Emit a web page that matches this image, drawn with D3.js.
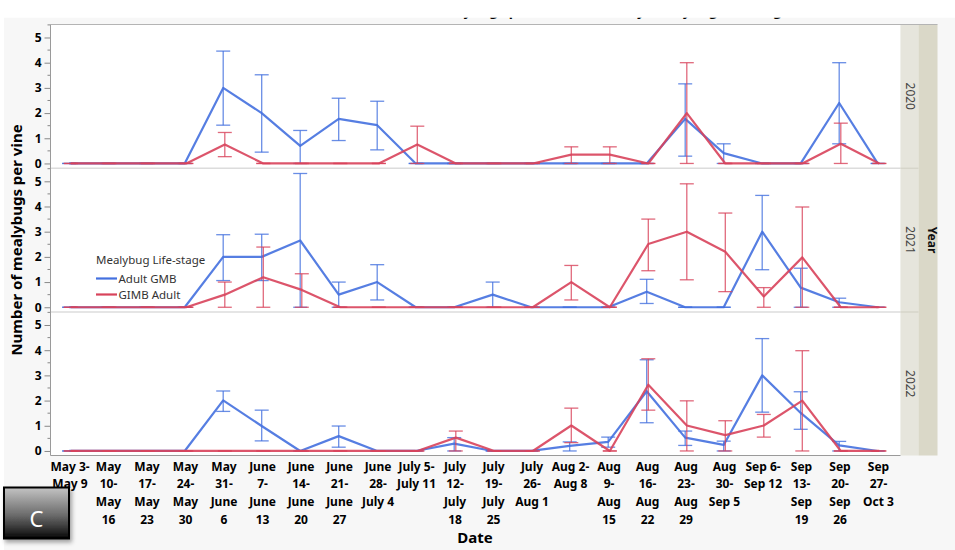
<!DOCTYPE html>
<html>
<head>
<meta charset="utf-8">
<script src="https://cdn.jsdelivr.net/npm/d3@7"></script>
<style>
  html, body { margin: 0; padding: 0; background: #ffffff; }
  svg { display: block; }
</style>
</head>
<body>
<svg id="chart" width="955" height="550"></svg>
<script>
// ---------------- DATA ----------------
const categories = [
  "May 3-May 9", "May 10-May 16", "May 17-May 23", "May 24-May 30", "May 31-June 6",
  "June 7-June 13", "June 14-June 20", "June 21-June 27", "June 28-July 4", "July 5-July 11",
  "July 12-July 18", "July 19-July 25", "July 26-Aug 1", "Aug 2-Aug 8", "Aug 9-Aug 15",
  "Aug 16-Aug 22", "Aug 23-Aug 29", "Aug 30-Sep 5", "Sep 6-Sep 12", "Sep 13-Sep 19",
  "Sep 20-Sep 26", "Sep 27-Oct 3"
];
const tickLabels = [
  ["May 3-", "May 9"], ["May", "10-", "May", "16"], ["May", "17-", "May", "23"], ["May", "24-", "May", "30"],
  ["May", "31-", "June", "6"], ["June", "7-", "June", "13"], ["June", "14-", "June", "20"], ["June", "21-", "June", "27"],
  ["June", "28-", "July 4"], ["July 5-", "July 11"], ["July", "12-", "July", "18"], ["July", "19-", "July", "25"],
  ["July", "26-", "Aug 1"], ["Aug 2-", "Aug 8"], ["Aug", "9-", "Aug", "15"], ["Aug", "16-", "Aug", "22"],
  ["Aug", "23-", "Aug", "29"], ["Aug", "30-", "Sep 5"], ["Sep 6-", "Sep 12"], ["Sep", "13-", "Sep", "19"],
  ["Sep", "20-", "Sep", "26"], ["Sep", "27-", "Oct 3"]
];
const years = ["2020", "2021", "2022"];
const seriesNames = ["Adult GMB", "GIMB Adult"];
const yTicks = [0, 1, 2, 3, 4, 5];

// 2020
const adultGMB2020    = [0,0,0,0,3.0,2.0,0.7,1.77,1.52,0,0,0,0,0,0,0,1.77,0.41,0,0,2.4,0];
const adultGMB2020Lo  = [0,0,0,0,1.52,0.45,0,0.91,0.54,0,0,0,0,0,0,0,0.29,0,0,0,0.78,0];
const adultGMB2020Hi  = [0,0,0,0,4.46,3.52,1.31,2.59,2.47,0,0,0,0,0,0,0,3.16,0.78,0,0,4.0,0];
const gimbAdult2020   = [0,0,0,0,0.75,0,0,0,0,0.75,0,0,0,0.35,0.35,0,2.0,0,0,0,0.78,0];
const gimbAdult2020Lo = [0,0,0,0,0.27,0,0,0,0,0,0,0,0,0,0,0,0,0,0,0,0,0];
const gimbAdult2020Hi = [0,0,0,0,1.23,0,0,0,0,1.48,0,0,0,0.66,0.66,0,4.0,0,0,0,1.6,0];
// 2021
const adultGMB2021    = [0,0,0,0,2.0,2.0,2.65,0.5,1.0,0,0,0.5,0,0,0,0.62,0,0,3.0,0.78,0.2,0];
const adultGMB2021Lo  = [0,0,0,0,1.06,1.06,0,0,0.29,0,0,0,0,0,0,0.15,0,0,1.49,0,0,0];
const adultGMB2021Hi  = [0,0,0,0,2.88,2.9,5.31,1.0,1.69,0,0,1.0,0,0,0,1.11,0,0,4.44,1.55,0.36,0];
const gimbAdult2021   = [0,0,0,0,0.5,1.19,0.69,0,0,0,0,0,0,1.0,0,2.51,3.0,2.2,0.43,1.98,0,0];
const gimbAdult2021Lo = [0,0,0,0,0,0,0,0,0,0,0,0,0,0.29,0,1.45,1.09,0.62,0,0,0,0];
const gimbAdult2021Hi = [0,0,0,0,1.0,2.39,1.33,0,0,0,0,0,0,1.66,0,3.5,4.9,3.74,0.78,3.98,0,0];
// 2022
const adultGMB2022    = [0,0,0,0,2.01,0.99,0,0.59,0,0,0.29,0,0,0.2,0.36,2.37,0.53,0.24,3.0,1.51,0.22,0];
const adultGMB2022Lo  = [0,0,0,0,1.57,0.4,0,0.15,0,0,0,0,0,0,0.15,1.12,0.22,0,1.54,0.86,0,0];
const adultGMB2022Hi  = [0,0,0,0,2.38,1.62,0,0.99,0,0,0.53,0,0,0.36,0.55,3.62,0.79,0.39,4.46,2.35,0.38,0];
const gimbAdult2022   = [0,0,0,0,0,0,0,0,0,0,0.53,0,0,1.01,0,2.63,1.01,0.63,1.01,2.0,0,0];
const gimbAdult2022Lo = [0,0,0,0,0,0,0,0,0,0,0,0,0,0.33,0,1.62,0,0,0.55,0,0,0];
const gimbAdult2022Hi = [0,0,0,0,0,0,0,0,0,0,0.79,0,0,1.7,0,3.66,1.99,1.2,1.45,3.98,0,0];

const panelData = [
  { year: years[0], series: [
    { name: seriesNames[0], v: adultGMB2020, lo: adultGMB2020Lo, hi: adultGMB2020Hi },
    { name: seriesNames[1], v: gimbAdult2020, lo: gimbAdult2020Lo, hi: gimbAdult2020Hi } ] },
  { year: years[1], series: [
    { name: seriesNames[0], v: adultGMB2021, lo: adultGMB2021Lo, hi: adultGMB2021Hi },
    { name: seriesNames[1], v: gimbAdult2021, lo: gimbAdult2021Lo, hi: gimbAdult2021Hi } ] },
  { year: years[2], series: [
    { name: seriesNames[0], v: adultGMB2022, lo: adultGMB2022Lo, hi: adultGMB2022Hi },
    { name: seriesNames[1], v: gimbAdult2022, lo: gimbAdult2022Lo, hi: gimbAdult2022Hi } ] }
];

// ---------------- LAYOUT ----------------
const svg = d3.select("#chart");
const FONT = "'Noto Sans', 'DejaVu Sans', sans-serif";
const color = d3.scaleOrdinal().domain(seriesNames).range(["#4470df", "#d8435b"]);
const xOffset = { "Adult GMB": -0.8, "GIMB Adult": 0.8 };

const plotLeft = 50.5, plotRight = 900.5;
const panelTops = [24.5, 168.3, 312];
const panelH = 143.5;
const x = d3.scalePoint().domain(categories).range([70, 878.5]);

// backgrounds
svg.append("rect").attr("x", 0).attr("y", 0).attr("width", 955).attr("height", 550).attr("fill", "#ffffff");
svg.append("rect").attr("x", 4).attr("y", 17.7).attr("width", 951).attr("height", 533).attr("fill", "#f7f7f7");

// clipped title (only descenders visible, as in the reference)
svg.append("clipPath").attr("id", "titleClip")
  .append("rect").attr("x", 0).attr("y", 17.7).attr("width", 955).attr("height", 10);
svg.append("text")
  .attr("clip-path", "url(#titleClip)")
  .attr("x", 570).attr("y", 15.6)
  .attr("text-anchor", "middle")
  .attr("font-family", FONT).attr("font-weight", "bold").attr("font-size", 14)
  .attr("fill", "#000")
  .text("Number of mealybugs per vine vs. Date by Mealybug Life-stage");

// plot area white
svg.append("rect").attr("x", plotLeft).attr("y", panelTops[0]).attr("width", plotRight - plotLeft)
  .attr("height", panelTops[2] + panelH - panelTops[0]).attr("fill", "#ffffff");

// year strip
const stripTop = panelTops[0], stripBottom = panelTops[2] + panelH;
svg.append("rect").attr("x", 900.5).attr("y", stripTop).attr("width", 18).attr("height", stripBottom - stripTop).attr("fill", "#e6e5dc");
svg.append("rect").attr("x", 918.5).attr("y", stripTop).attr("width", 19).attr("height", stripBottom - stripTop).attr("fill", "#dad8c8");

panelData.forEach((pd, pi) => {
  const top = panelTops[pi];
  const y = d3.scaleLinear().domain([-0.18, 5.516]).range([top + panelH, top]);
  const g = svg.append("g");

  // strip label
  g.append("text")
    .attr("transform", `translate(905.5,${top + panelH / 2}) rotate(90)`)
    .attr("text-anchor", "middle")
    .attr("font-family", FONT).attr("font-size", 12).attr("fill", "#444")
    .text(pd.year);

  // separators
  if (pi > 0) {
    svg.append("line").attr("x1", plotLeft).attr("x2", plotRight).attr("y1", top).attr("y2", top)
      .attr("stroke", "#dcdcdc").attr("stroke-width", 1.5);
    svg.append("line").attr("x1", 900.5).attr("x2", 918.5).attr("y1", top).attr("y2", top)
      .attr("stroke", "#d6d5ca").attr("stroke-width", 1.5);
  }

  // y axis
  const yAxis = d3.axisLeft(y).tickValues(yTicks).tickSize(6).tickPadding(3).tickFormat(d3.format("d"));
  const ax = g.append("g").attr("transform", `translate(${plotLeft},0)`).call(yAxis);
  ax.select(".domain").remove();
  ax.selectAll("line").attr("stroke", "#888");
  ax.selectAll("text").attr("font-family", FONT).attr("font-weight", "bold").attr("font-size", 12).attr("fill", "#000");
  const minor = d3.range(0.5, 5.6, 1);
  g.selectAll(".minor").data(minor).enter().append("line")
    .attr("x1", plotLeft - 3).attr("x2", plotLeft)
    .attr("y1", d => y(d)).attr("y2", d => y(d))
    .attr("stroke", "#888");

  // series: blue first, red on top
  pd.series.forEach(s => {
    const c = color(s.name);
    const dx = xOffset[s.name];
    const eg = g.append("g").attr("stroke", c).attr("stroke-width", 1.3).attr("stroke-opacity", 0.8);
    categories.forEach((cat, i) => {
      const cx = x(cat) + dx;
      eg.append("line").attr("x1", cx).attr("x2", cx).attr("y1", y(s.lo[i])).attr("y2", y(s.hi[i]));
      [s.lo[i], s.hi[i]].forEach(v => {
        eg.append("line").attr("x1", cx - 7).attr("x2", cx + 7).attr("y1", y(v)).attr("y2", y(v));
      });
    });
    const line = d3.line().x((d, i) => x(categories[i]) + dx).y(d => y(d));
    g.append("path").datum(s.v).attr("d", line)
      .attr("fill", "none").attr("stroke", c).attr("stroke-width", 2.2)
      .attr("stroke-opacity", 0.9).attr("stroke-linejoin", "round");
  });
});

// borders
svg.append("line").attr("x1", plotLeft).attr("x2", 937.5).attr("y1", 24.5).attr("y2", 24.5).attr("stroke", "#b4b4b4");
svg.append("line").attr("x1", plotLeft).attr("x2", plotLeft).attr("y1", 24.5).attr("y2", stripBottom).attr("stroke", "#9a9a9a");
svg.append("line").attr("x1", plotLeft).attr("x2", plotRight).attr("y1", stripBottom).attr("y2", stripBottom).attr("stroke", "#9a9a9a");

// "Year" label
svg.append("text")
  .attr("transform", `translate(927.5,${(stripTop + stripBottom) / 2}) rotate(90)`)
  .attr("text-anchor", "middle")
  .attr("font-family", FONT).attr("font-weight", "bold").attr("font-size", 12).attr("fill", "#111")
  .text("Year");

// x tick labels
const xl = svg.append("g");
categories.forEach((cat, i) => {
  const t = xl.append("text")
    .attr("x", x(cat)).attr("y", 470.5)
    .attr("text-anchor", "middle")
    .attr("font-family", FONT).attr("font-weight", "bold").attr("font-size", 12).attr("fill", "#000");
  tickLabels[i].forEach((ln, k) => {
    t.append("tspan").attr("x", x(cat)).attr("dy", k === 0 ? 0 : 17.7).text(ln);
  });
});

// axis titles
svg.append("text").attr("x", 475).attr("y", 543)
  .attr("text-anchor", "middle").attr("font-family", FONT).attr("font-weight", "bold").attr("font-size", 15)
  .attr("fill", "#000").text("Date");
svg.append("text")
  .attr("transform", `translate(22,240) rotate(-90)`)
  .attr("text-anchor", "middle").attr("font-family", FONT).attr("font-weight", "bold").attr("font-size", 15)
  .attr("fill", "#000").text("Number of mealybugs per vine");

// legend
const lg = svg.append("g");
lg.append("text").attr("x", 96).attr("y", 264).attr("font-family", FONT).attr("font-size", 11.5)
  .attr("fill", "#333").text("Mealybug Life-stage");
seriesNames.forEach((n, i) => {
  const yy = 278.5 + i * 16;
  lg.append("line").attr("x1", 96).attr("x2", 117).attr("y1", yy).attr("y2", yy)
    .attr("stroke", color(n)).attr("stroke-width", 2.2);
  lg.append("text").attr("x", 118.5).attr("y", yy + 4).attr("font-family", FONT).attr("font-size", 11.5)
    .attr("fill", "#333").text(n);
});

// panel label box "C"
const defs = svg.append("defs");
const grad = defs.append("linearGradient").attr("id", "cgrad").attr("x1", 0).attr("x2", 0).attr("y1", 0).attr("y2", 1);
grad.append("stop").attr("offset", "0%").attr("stop-color", "#c4c4c4");
grad.append("stop").attr("offset", "55%").attr("stop-color", "#6a6a6a");
grad.append("stop").attr("offset", "100%").attr("stop-color", "#080808");
const flt = defs.append("filter").attr("id", "cshadow").attr("x", "-20%").attr("y", "-20%").attr("width", "150%").attr("height", "150%");
flt.append("feDropShadow").attr("dx", 2).attr("dy", 3).attr("stdDeviation", 2).attr("flood-color", "#000").attr("flood-opacity", 0.35);
svg.append("rect").attr("x", 4).attr("y", 487.5).attr("width", 65).attr("height", 51)
  .attr("fill", "url(#cgrad)").attr("stroke", "#000").attr("stroke-width", 2).attr("filter", "url(#cshadow)");
svg.append("text").attr("x", 36.5).attr("y", 527).attr("text-anchor", "middle")
  .attr("font-family", FONT).attr("font-size", 22).attr("fill", "#ffffff").text("C");
</script>
</body>
</html>
